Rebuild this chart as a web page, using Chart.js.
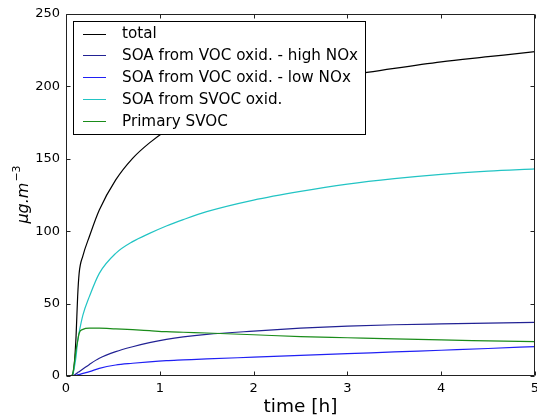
<!DOCTYPE html>
<html>

<head>
    <title>SOA concentrations</title>
    <meta charset="utf-8">
    <style>
        html, body { margin: 0; padding: 0; background: #fff; }
        #wrap { width: 537px; height: 416px; }
    </style>
</head>

<body>
    <div id="wrap"><canvas id="myChart" width="537" height="416"></canvas></div>

    <script src="https://cdn.jsdelivr.net/npm/chart.js"></script>
    <script>
        // time in hours
        const times = [0, 0.05, 0.07, 0.089, 0.107, 0.124, 0.14, 0.18, 0.25, 0.355, 0.53, 0.71, 0.89, 1.07, 1.25, 1.5, 2, 2.5, 3, 3.5, 4, 4.5, 5];

        const total      = [0, 0, 1, 8.8, 27, 54.8, 70.9, 83, 96.5, 114.6, 135.4, 150.3, 161, 169.5, 176.5, 184, 194, 201.5, 207.5, 212.5, 217, 220.5, 224];
        const highNOx    = [0, 0, 0.3, 0.7, 1.5, 2.3, 3, 4.8, 8, 12.2, 16.8, 20.2, 23, 25.3, 27, 28.7, 31, 33, 34.4, 35.4, 36, 36.5, 37];
        const lowNOx     = [0, 0, 0.1, 0.3, 0.5, 0.8, 1, 1.8, 3, 5.3, 7.6, 8.8, 9.8, 10.6, 11.1, 11.8, 13, 14.2, 15.4, 16.6, 17.8, 19, 20.3];
        const svocOxid   = [0, 0, 0.7, 6, 13.3, 24, 30, 42, 55, 70.9, 84.7, 92.8, 98.5, 103.6, 108, 113.5, 121.5, 127.5, 132.5, 136.3, 139.3, 141.5, 143];
        const primSvoc   = [0, 0, 1, 8.8, 18, 24, 29.5, 32.2, 33, 33, 32.5, 32, 31.3, 30.6, 30.2, 29.7, 28.5, 27.2, 26.4, 25.6, 24.9, 24.3, 23.7];

        const labels = ["total", "SOA from VOC oxid. - high NOx", "SOA from VOC oxid. - low NOx", "SOA from SVOC oxid.", "Primary SVOC"];
        const colors = ["#000000", "#222294", "#2020f4", "#22c4c4", "#1a8c1a"];
        const series = [total, highNOx, lowNOx, svocOxid, primSvoc];

        const xTicks = [0, 1, 2, 3, 4, 5];
        const yTicks = [0, 50, 100, 150, 200, 250];

        const FONT = "'DejaVu Sans', sans-serif";

        function pts(vals) {
            return times.map((t, i) => ({ x: t, y: vals[i] }));
        }

        // frame, inward ticks, axis titles and legend box
        const decor = {
            id: "decor",
            afterDatasetsDraw(chart) {
                const c = chart.ctx;
                const a = chart.chartArea;
                const xs = chart.scales.x, ys = chart.scales.y;
                const L = Math.round(a.left) + 0.5, R = Math.round(a.right) - 0.5;
                const T = Math.round(a.top) + 0.5, B = Math.round(a.bottom) - 0.5;
                c.save();
                c.strokeStyle = "#222";
                c.lineWidth = 1;
                c.beginPath();
                c.rect(L, T, R - L, B - T);
                c.stroke();
                c.beginPath();
                xTicks.forEach(v => {
                    const px = Math.round(xs.getPixelForValue(v)) + 0.5;
                    c.moveTo(px, B); c.lineTo(px, B - 4);
                    c.moveTo(px, T); c.lineTo(px, T + 4);
                });
                yTicks.forEach(v => {
                    const py = Math.round(ys.getPixelForValue(v)) + 0.5;
                    c.moveTo(L, py); c.lineTo(L + 4, py);
                    c.moveTo(R, py); c.lineTo(R - 4, py);
                });
                c.stroke();

                // legend
                const bx = 73.5, by = 21.5, bw = 292, bh = 113;
                c.fillStyle = "#fff";
                c.fillRect(bx, by, bw, bh);
                c.strokeStyle = "#000";
                c.strokeRect(bx, by, bw, bh);
                c.font = "15.2px " + FONT;
                c.textBaseline = "middle";
                c.textAlign = "left";
                labels.forEach((lab, i) => {
                    const yy = 33.5 + i * 21.9;
                    c.strokeStyle = colors[i];
                    c.beginPath();
                    c.moveTo(83, Math.round(yy) + 0.5);
                    c.lineTo(106, Math.round(yy) + 0.5);
                    c.stroke();
                    c.fillStyle = "#000";
                    c.fillText(lab, 122, yy + 1);
                });

                // x title
                c.font = "18.5px " + FONT;
                c.textAlign = "center";
                c.textBaseline = "alphabetic";
                c.fillText("time [h]", (a.left + a.right) / 2, 412);

                // y title: mu g . m ^ -3
                c.translate(28, (a.top + a.bottom) / 2);
                c.rotate(-Math.PI / 2);
                c.textAlign = "left";
                const mainF = "italic 16px " + FONT, supF = "11px " + FONT;
                c.font = mainF;
                const w1 = c.measureText("\u03bcg.m").width;
                c.font = supF;
                const w2 = c.measureText("\u22123").width;
                const x0 = -(w1 + w2) / 2;
                c.font = mainF;
                c.fillText("\u03bcg.m", x0, 0);
                c.font = supF;
                c.fillText("\u22123", x0 + w1 + 1, -8);
                c.restore();
            }
        };

        const ctx = document.getElementById("myChart");

        let chart = new Chart(ctx, {
            type: "line",
            data: {
                datasets: series.map((s, i) => ({
                    label: labels[i],
                    data: pts(s),
                    borderColor: colors[i],
                    borderWidth: 1.2,
                    pointRadius: 0,
                    fill: false,
                    cubicInterpolationMode: "monotone",
                    order: -i
                }))
            },
            options: {
                responsive: false,
                animation: false,
                layout: { autoPadding: false, padding: { top: 14, right: 2, left: 0, bottom: 0 } },
                plugins: {
                    legend: { display: false },
                    tooltip: { enabled: false }
                },
                scales: {
                    x: {
                        type: "linear",
                        position: "bottom",
                        min: 0,
                        max: 5,
                        afterFit: s => { s.height = 40; s.paddingLeft = 0; s.paddingRight = 0; },
                        afterBuildTicks: s => { s.ticks = xTicks.map(v => ({ value: v })); },
                        grid: { display: false, drawTicks: false },
                        border: { display: false },
                        ticks: {
                            padding: 5,
                            color: "#000",
                            maxRotation: 0,
                            font: { family: FONT, size: 13 }
                        }
                    },
                    y: {
                        type: "linear",
                        min: 0,
                        max: 250,
                        afterFit: s => { s.width = 66; s.paddingTop = 0; s.paddingBottom = 0; },
                        afterBuildTicks: s => { s.ticks = yTicks.map(v => ({ value: v })); },
                        grid: { display: false, drawTicks: false },
                        border: { display: false },
                        ticks: {
                            padding: 6,
                            color: "#000",
                            font: { family: FONT, size: 13 }
                        }
                    }
                }
            },
            plugins: [decor]
        });
    </script>
</body>

</html>
